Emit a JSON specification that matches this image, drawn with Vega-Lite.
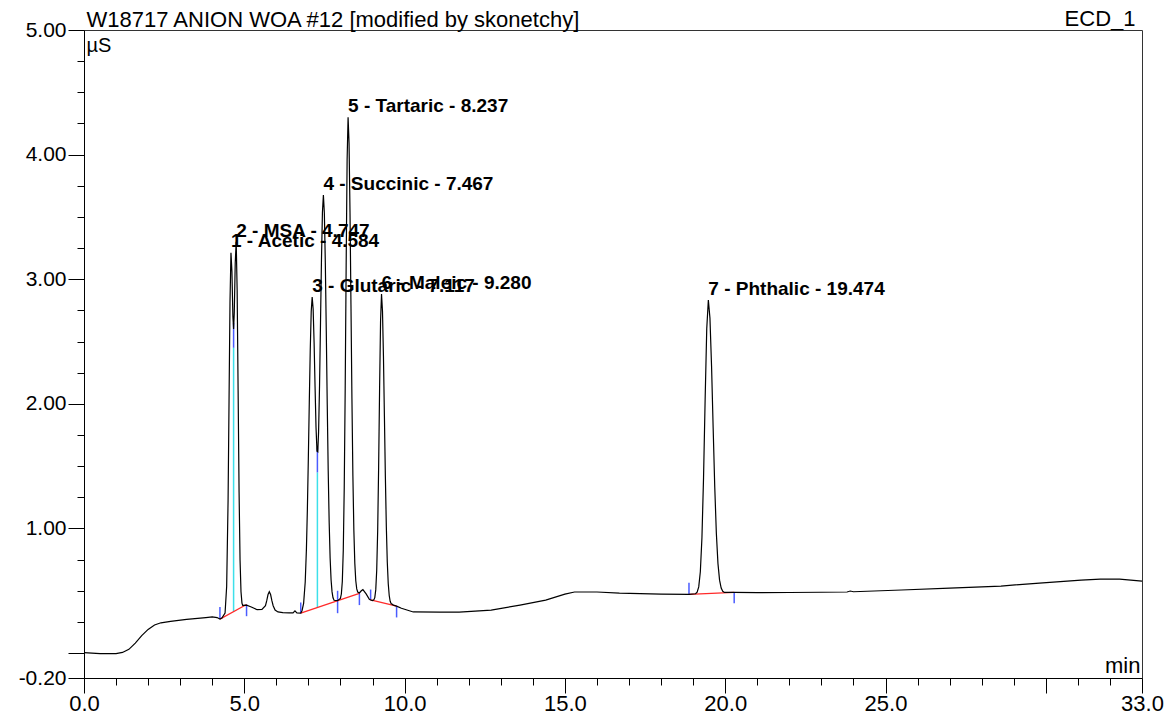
{
"$schema": "https://vega.github.io/schema/vega-lite/v6.json",
"width": 1058, "height": 648,
"autosize": {"type": "none"},
"padding": {"left": 84, "top": 30, "right": 23, "bottom": 42},
"background": "white",
"config": {
  "font": "Liberation Sans",
  "view": {"stroke": "#333", "strokeWidth": 1},
  "axis": {"grid": false, "domainColor": "black", "tickColor": "black", "labelColor": "black", "titleColor": "black", "labelFont": "Liberation Sans", "titleFont": "Liberation Sans", "titleFontWeight": "normal", "labelOverlap": false, "labelFlush": false, "labelBound": false, "tickWidth": 1, "domainWidth": 1}
},
"datasets": {
  "curve": [
    {"t":0.0,"v":0.003},{"t":0.5,"v":-0.005},{"t":1.0,"v":-0.005},{"t":1.2,"v":0.005},{"t":1.4,"v":0.03},{"t":1.6,"v":0.08},{"t":1.8,"v":0.14},{"t":2.0,"v":0.19},{"t":2.2,"v":0.225},{"t":2.4,"v":0.243},{"t":2.7,"v":0.255},{"t":3.2,"v":0.27},{"t":3.8,"v":0.285},{"t":4.0,"v":0.29},{"t":4.15,"v":0.285},{"t":4.24,"v":0.273},
    {"t":4.30,"v":0.281},{"t":4.40,"v":0.322},{"t":4.45,"v":0.536},{"t":4.494,"v":1.225},{"t":4.524,"v":2.026},{"t":4.554,"v":2.822},{"t":4.584,"v":3.213},{"t":4.614,"v":3.061},{"t":4.644,"v":2.702},{"t":4.666,"v":2.601},{"t":4.687,"v":2.732},{"t":4.717,"v":3.129},{"t":4.747,"v":3.301},{"t":4.777,"v":2.911},{"t":4.807,"v":2.105},{"t":4.837,"v":1.293},{"t":4.867,"v":0.750},{"t":4.897,"v":0.492},{"t":4.927,"v":0.401},{"t":4.95,"v":0.383},{"t":5.07,"v":0.385},
    {"t":5.2,"v":0.372},{"t":5.4,"v":0.348},{"t":5.55,"v":0.35},{"t":5.66,"v":0.38},{"t":5.70,"v":0.42},{"t":5.74,"v":0.47},{"t":5.78,"v":0.492},{"t":5.82,"v":0.47},{"t":5.86,"v":0.42},{"t":5.90,"v":0.38},{"t":5.96,"v":0.345},{"t":6.05,"v":0.33},{"t":6.2,"v":0.325},{"t":6.4,"v":0.322},{"t":6.52,"v":0.322},{"t":6.58,"v":0.338},{"t":6.64,"v":0.322},{"t":6.76,"v":0.32},
    {"t":6.80,"v":0.340},{"t":6.85,"v":0.399},{"t":6.90,"v":0.570},{"t":6.937,"v":0.830},{"t":6.967,"v":1.150},{"t":6.997,"v":1.558},{"t":7.027,"v":2.010},{"t":7.057,"v":2.433},{"t":7.087,"v":2.740},{"t":7.117,"v":2.857},{"t":7.147,"v":2.763},{"t":7.177,"v":2.492},{"t":7.207,"v":2.138},{"t":7.237,"v":1.811},{"t":7.267,"v":1.621},{"t":7.292,"v":1.616},{"t":7.317,"v":1.775},{"t":7.347,"v":2.150},{"t":7.377,"v":2.653},{"t":7.407,"v":3.159},{"t":7.437,"v":3.538},{"t":7.467,"v":3.676},{"t":7.497,"v":3.529},{"t":7.527,"v":3.133},{"t":7.557,"v":2.584},{"t":7.587,"v":1.994},{"t":7.617,"v":1.464},{"t":7.647,"v":1.049},{"t":7.677,"v":0.762},{"t":7.707,"v":0.587},{"t":7.737,"v":0.491},{"t":7.767,"v":0.444},{"t":7.80,"v":0.424},{"t":7.91,"v":0.421},
    {"t":7.997,"v":0.439},{"t":8.027,"v":0.474},{"t":8.057,"v":0.574},{"t":8.087,"v":0.824},{"t":8.117,"v":1.325},{"t":8.147,"v":2.124},{"t":8.177,"v":3.113},{"t":8.207,"v":3.958},{"t":8.237,"v":4.30},{"t":8.267,"v":4.095},{"t":8.297,"v":3.539},{"t":8.327,"v":2.795},{"t":8.357,"v":2.043},{"t":8.387,"v":1.421},{"t":8.417,"v":0.985},{"t":8.447,"v":0.720},{"t":8.477,"v":0.580},{"t":8.507,"v":0.515},{"t":8.537,"v":0.490},{"t":8.59,"v":0.482},{"t":8.65,"v":0.50},{"t":8.70,"v":0.51},{"t":8.80,"v":0.475},{"t":8.90,"v":0.432},{"t":8.94,"v":0.426},{"t":9.00,"v":0.422},
    {"t":9.04,"v":0.427},{"t":9.07,"v":0.445},{"t":9.10,"v":0.507},{"t":9.13,"v":0.664},{"t":9.16,"v":0.982},{"t":9.19,"v":1.493},{"t":9.22,"v":2.125},{"t":9.25,"v":2.665},{"t":9.28,"v":2.881},{"t":9.31,"v":2.745},{"t":9.34,"v":2.384},{"t":9.37,"v":1.902},{"t":9.40,"v":1.416},{"t":9.43,"v":1.013},{"t":9.46,"v":0.728},{"t":9.49,"v":0.556},{"t":9.52,"v":0.462},{"t":9.55,"v":0.416},{"t":9.58,"v":0.397},{"t":9.65,"v":0.385},{"t":9.75,"v":0.377},{"t":9.90,"v":0.36},{"t":10.27,"v":0.33},{"t":11.1,"v":0.329},{"t":11.7,"v":0.329},{"t":12.7,"v":0.345},{"t":13.6,"v":0.385},{"t":14.4,"v":0.425},{"t":15.0,"v":0.473},{"t":15.3,"v":0.49},{"t":16.0,"v":0.49},{"t":16.7,"v":0.481},{"t":18.0,"v":0.473},{"t":18.87,"v":0.471},
    {"t":19.074,"v":0.476},{"t":19.124,"v":0.489},{"t":19.174,"v":0.531},{"t":19.224,"v":0.653},{"t":19.274,"v":0.926},{"t":19.324,"v":1.406},{"t":19.374,"v":2.036},{"t":19.424,"v":2.602},{"t":19.474,"v":2.833},{"t":19.524,"v":2.688},{"t":19.574,"v":2.304},{"t":19.624,"v":1.806},{"t":19.674,"v":1.330},{"t":19.724,"v":0.959},{"t":19.774,"v":0.718},{"t":19.824,"v":0.585},{"t":19.874,"v":0.522},{"t":19.924,"v":0.496},{"t":19.974,"v":0.487},{"t":20.28,"v":0.487},
    {"t":21.0,"v":0.485},{"t":22.0,"v":0.486},{"t":23.0,"v":0.488},{"t":23.8,"v":0.490},{"t":23.9,"v":0.498},{"t":24.0,"v":0.492},{"t":25.5,"v":0.506},{"t":27.0,"v":0.522},{"t":28.6,"v":0.538},{"t":29.8,"v":0.562},{"t":31.1,"v":0.586},{"t":31.7,"v":0.594},{"t":32.3,"v":0.594},{"t":33.0,"v":0.578}
  ],
  "base": [
    {"seg":1,"t":4.24,"v":0.273},{"seg":1,"t":5.07,"v":0.39},
    {"seg":2,"t":6.76,"v":0.32},{"seg":2,"t":8.59,"v":0.48},
    {"seg":3,"t":8.94,"v":0.426},{"seg":3,"t":9.75,"v":0.377},
    {"seg":4,"t":18.87,"v":0.471},{"seg":4,"t":20.28,"v":0.487}
  ],
  "marks": [
    {"t":4.24,"lo":0.273,"hi":0.37,"kind":"tick"},
    {"t":4.666,"lo":0.333,"hi":2.45,"kind":"drop"},
    {"t":4.666,"lo":2.45,"hi":2.65,"kind":"tick"},
    {"t":5.07,"lo":0.296,"hi":0.39,"kind":"tick"},
    {"t":6.76,"lo":0.32,"hi":0.406,"kind":"tick"},
    {"t":7.28,"lo":0.365,"hi":1.45,"kind":"drop"},
    {"t":7.28,"lo":1.45,"hi":1.65,"kind":"tick"},
    {"t":7.91,"lo":0.32,"hi":0.50,"kind":"tick"},
    {"t":8.59,"lo":0.385,"hi":0.48,"kind":"tick"},
    {"t":8.94,"lo":0.426,"hi":0.51,"kind":"tick"},
    {"t":9.75,"lo":0.286,"hi":0.377,"kind":"tick"},
    {"t":18.87,"lo":0.471,"hi":0.565,"kind":"tick"},
    {"t":20.28,"lo":0.399,"hi":0.487,"kind":"tick"}
  ],
  "labels": [
    {"t":4.584,"v":3.218,"label":"1 - Acetic - 4.584"},
    {"t":4.747,"v":3.30,"label":"2 - MSA - 4.747"},
    {"t":7.117,"v":2.857,"label":"3 - Glutaric - 7.117"},
    {"t":7.467,"v":3.676,"label":"4 - Succinic - 7.467"},
    {"t":8.237,"v":4.30,"label":"5 - Tartaric - 8.237"},
    {"t":9.280,"v":2.881,"label":"6 - Maleic - 9.280"},
    {"t":19.474,"v":2.833,"label":"7 - Phthalic - 19.474"}
  ]
},
"layer": [
  {
    "data": {"name": "marks"},
    "mark": {"type": "rule", "strokeWidth": 1.5},
    "encoding": {
      "x": {"field": "t", "type": "quantitative", "scale": {"domain": [0, 33], "nice": false, "zero": false},
            "axis": {"orient": "top", "ticks": false, "labels": false, "domain": false, "title": "ECD_1", "titleX": 1051, "titleY": -5, "titleAlign": "right", "titleAnchor": null, "titleBaseline": "alphabetic", "titleFontSize": 22, "titleAngle": 0}},
      "y": {"field": "lo", "type": "quantitative", "scale": {"domain": [-0.2, 5], "nice": false, "zero": false}, "axis": null},
      "y2": {"field": "hi"},
      "color": {"field": "kind", "type": "nominal", "scale": {"domain": ["tick", "drop"], "range": ["#4a5cff", "#3de0ea"]}, "legend": null}
    }
  },
  {
    "data": {"name": "base"},
    "mark": {"type": "line", "color": "#ff2a2a", "strokeWidth": 1.3},
    "encoding": {
      "detail": {"field": "seg", "type": "nominal"},
      "x": {"field": "t", "type": "quantitative", "scale": {"domain": [0, 33], "nice": false, "zero": false},
            "axis": {"orient": "bottom", "values": [1,2,3,4,6,7,8,9,11,12,13,14,16,17,18,19,21,22,23,24,26,27,28,29,31,32], "labels": false, "domain": false, "tickSize": 7, "title": null}},
      "y": {"field": "v", "type": "quantitative", "scale": {"domain": [-0.2, 5], "nice": false, "zero": false},
            "axis": {"orient": "left", "values": [0.25,0.5,0.75,1.25,1.5,1.75,2.25,2.5,2.75,3.25,3.5,3.75,4.25,4.5,4.75], "labels": false, "domain": false, "tickSize": 7, "title": null}}
    }
  },
  {
    "data": {"name": "curve"},
    "mark": {"type": "line", "color": "black", "strokeWidth": 1.2},
    "encoding": {
      "x": {"field": "t", "type": "quantitative", "scale": {"domain": [0, 33], "nice": false, "zero": false},
            "axis": {"orient": "bottom", "values": [0,5,10,15,20,25,30,33], "labelExpr": "datum.value == 30 ? '' : format(datum.value, '.1f')", "tickSize": 15, "labelPadding": 0, "labelFontSize": 22,
                     "title": "min", "titleX": 1056, "titleY": -6, "titleAlign": "right", "titleAnchor": null, "titleBaseline": "alphabetic", "titleFontSize": 22}},
      "y": {"field": "v", "type": "quantitative", "scale": {"domain": [-0.2, 5], "nice": false, "zero": false},
            "axis": {"orient": "left", "values": [-0.2,0,1,2,3,4,5], "labelExpr": "datum.value == 0 ? '' : (datum.value < 0 ? '-0.20' : format(datum.value, '.2f'))", "tickSize": 16, "labelPadding": 2, "labelFontSize": 21,
                     "title": "µS", "titleAngle": 0, "titleX": 2, "titleY": 21, "titleAlign": "left", "titleAnchor": null, "titleBaseline": "alphabetic", "titleFontSize": 20}}
    }
  },
  {
    "data": {"name": "labels"},
    "mark": {"type": "text", "align": "left", "baseline": "alphabetic", "dy": -5, "font": "Liberation Sans", "fontWeight": "bold", "fontSize": 19, "color": "black"},
    "encoding": {
      "x": {"field": "t", "type": "quantitative", "scale": {"domain": [0, 33], "nice": false, "zero": false},
            "axis": {"orient": "top", "ticks": false, "labels": false, "domain": false, "title": "W18717 ANION WOA #12 [modified by skonetchy]", "titleX": 2, "titleY": -4, "titleAlign": "left", "titleAnchor": null, "titleBaseline": "alphabetic", "titleFontSize": 22, "titleAngle": 0}},
      "y": {"field": "v", "type": "quantitative", "scale": {"domain": [-0.2, 5], "nice": false, "zero": false}, "axis": null},
      "text": {"field": "label"}
    }
  }
],
"resolve": {"axis": {"x": "independent", "y": "independent"}}
}
